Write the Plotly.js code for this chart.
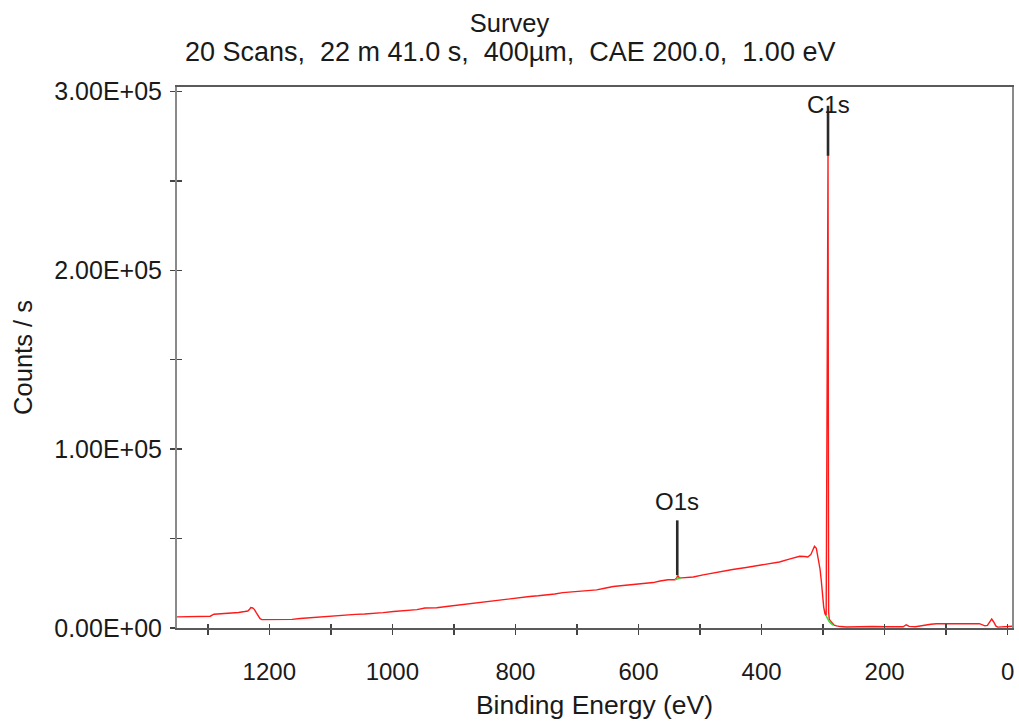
<!DOCTYPE html>
<html>
<head>
<meta charset="utf-8">
<script src="https://cdn.plot.ly/plotly-3.0.1.min.js"></script>
<style>html,body{margin:0;padding:0;background:#fff;}#chart{width:1019px;height:722px;}</style>
</head>
<body>
<div id="chart"></div>
<script>
// ---- Data ----
const bindingEnergy = [1350,1340,1320,1300,1296,1290,1280,1270,1260,1250,1240,1235,1232,1230,1227,1224,1221,1218,1215,1212,1200,1190,1180,1163,1150,1140,1130,1117,1100,1090,1074,1060,1045,1030,1015,998,980,960,947,928,912,896,880,863,847,831,818,804,790,777,763,750,736,723,709,695,681,668,655,641,625,609,592,576,565,552,541,538,536,534,530,520,511,495,479,463,447,425,403,387,371,355,338,330,325,320,317,314,311,308,305,303,301,299,297,295,293,292,291,290,288,286,284,282,278,272,262,250,240,230,220,200,190,180,170,165,160,150,143,135,125,116,100,80,60,46,42,37,33,29,26,23,19,16,10,5,0,-5,-7];
const countsPerSec = [6200,6300,6200,6300,6600,7700,7900,8200,8400,8700,9200,9500,10500,11400,11200,10300,8500,6500,5200,4700,4700,4700,4800,4800,5300,5600,5900,6200,6600,7000,7300,7600,7800,8000,8600,9200,9700,10300,11200,11300,12000,12700,13400,14200,14800,15300,15900,16400,17000,17600,18000,18300,19000,19800,20200,20500,20900,21300,22200,23200,23800,24300,24900,25400,26300,27000,27000,28000,29300,28200,28000,28300,28500,29700,30800,31700,32700,33800,34900,35900,36900,38500,40100,40000,39700,41000,43500,45700,44500,39700,33000,26700,18000,11700,8000,7000,173000,264000,9000,5000,4000,3200,2000,1600,1200,800,600,700,600,700,800,700,600,800,700,1800,900,700,1200,1800,2100,2400,2300,2400,2400,2400,1800,1200,1500,4000,5000,3500,1000,500,600,900,700,1000,1000];

// background (green) segments under the identified peaks
const bgO1sEnergy = [541,536,531];
const bgO1sCounts = [27000,27600,28000];
const bgC1sEnergy = [295,290,284];
const bgC1sCounts = [6800,3500,1500];

// peak identification markers
const peakLabels = ['O1s','C1s'];
const peakEnergy = [537,292];
const peakMarkerBottom = [29500,264000];
const peakMarkerTop = [60200,292000];
const peakLabelCounts = [71000,292500];

// titles
const titleMain = 'Survey';
const titleSub = '20 Scans,\u00a0\u00a022 m 41.0 s,\u00a0\u00a0400µm,\u00a0\u00a0CAE 200.0,\u00a0\u00a01.00 eV';

// axis ticks
const xTickValues = [1200,1000,800,600,400,200,0];
const xTickLabels = ['1200','1000','800','600','400','200','0'];
const yTickValues = [0,100000,200000,300000];
const yTickLabels = ['0.00E+00','1.00E+05','2.00E+05','3.00E+05'];

// ---- Build traces ----
const font = 'Liberation Sans, Arial, sans-serif';
const mx = [], my = [];
peakEnergy.forEach((e,i)=>{ mx.push(e,e,null); my.push(peakMarkerBottom[i],peakMarkerTop[i],null); });

const traces = [
  {x: bindingEnergy, y: countsPerSec, type:'scatter', mode:'lines',
   line:{color:'#ff1a1a', width:1.4}, hoverinfo:'skip', showlegend:false},
  {x: mx, y: my, type:'scatter', mode:'lines',
   line:{color:'#2a2a2a', width:2.6}, hoverinfo:'skip', showlegend:false},
  {x: bgO1sEnergy, y: bgO1sCounts, type:'scatter', mode:'lines', xaxis:'x2', yaxis:'y2',
   line:{color:'#33dd33', width:1.4}, hoverinfo:'skip', showlegend:false},
  {x: bgC1sEnergy, y: bgC1sCounts, type:'scatter', mode:'lines', xaxis:'x2', yaxis:'y2',
   line:{color:'#33dd33', width:1.4}, hoverinfo:'skip', showlegend:false}
];

const xRange = [1350,-7];
const yRange = [0,302500];
const tickFont = {family: font, size: 24, color:'#1a1a1a'};

const annotations = peakLabels.map((t,i)=>({x:peakEnergy[i], y:peakLabelCounts[i], xref:'x', yref:'y',
      text:t, showarrow:false, xanchor:'center', yanchor:'middle',
      font:{family:font, size:24, color:'#1a1a1a'}}));
annotations.push({text:titleSub, xref:'paper', yref:'paper', x:(509.5-177)/835, y:1+(87-52)/541,
      xanchor:'center', yanchor:'middle', showarrow:false,
      font:{family:font, size:27, color:'#1a1a1a'}});

const layout = {
  width:1019, height:722,
  margin:{l:177, r:7, t:87, b:94},
  paper_bgcolor:'#fff', plot_bgcolor:'#fff',
  showlegend:false,
  title:{text:titleMain,
         font:{family:font, size:25.5, color:'#1a1a1a'},
         xref:'container', x:0.5, xanchor:'center',
         yref:'container', y:1-23/722, yanchor:'middle'},
  xaxis:{range:xRange, autorange:false, tickvals:xTickValues, ticktext:xTickLabels,
         ticks:'outside', ticklen:5, tickwidth:1.5, tickcolor:'#444',
         minor:{dtick:100, tick0:0, ticks:'outside', ticklen:5, tickwidth:1.5, tickcolor:'#444'},
         showline:true, linecolor:'#5a5a5a', linewidth:2, mirror:true,
         showgrid:false, zeroline:false, tickfont:tickFont, ticklabelstandoff:16,
         title:{text:'Binding Energy (eV)', font:{family:font, size:26.5, color:'#1a1a1a'}, standoff:12}},
  xaxis2:{range:xRange, autorange:false, overlaying:'x', anchor:'y', side:'bottom',
         tickvals:xTickValues, ticks:'inside', ticklen:4, tickwidth:1.5, tickcolor:'#444',
         minor:{dtick:100, tick0:0, ticks:'inside', ticklen:4, tickwidth:1.5, tickcolor:'#444'},
         showticklabels:false, showline:false, showgrid:false, zeroline:false},
  yaxis:{range:yRange, autorange:false, tickvals:yTickValues, ticktext:yTickLabels,
         ticks:'outside', ticklen:5, tickwidth:1.5, tickcolor:'#444',
         minor:{dtick:50000, tick0:0, ticks:'outside', ticklen:5, tickwidth:1.5, tickcolor:'#444'},
         showline:true, linecolor:'#8a8a8a', linewidth:2, mirror:true,
         showgrid:false, zeroline:false, tickfont:{family:font, size:25, color:'#1a1a1a'}, ticklabelstandoff:3,
         title:{text:'Counts / s', font:{family:font, size:25.5, color:'#1a1a1a'}, standoff:14}},
  yaxis2:{range:yRange, autorange:false, overlaying:'y', anchor:'x', side:'left',
         tickvals:yTickValues, ticks:'inside', ticklen:5, tickwidth:1.5, tickcolor:'#444',
         minor:{dtick:50000, tick0:0, ticks:'inside', ticklen:5, tickwidth:1.5, tickcolor:'#444'},
         showticklabels:false, showline:false, showgrid:false, zeroline:false},
  annotations: annotations
};

Plotly.newPlot('chart', traces, layout, {staticPlot:true, displayModeBar:false});
</script>
</body>
</html>
